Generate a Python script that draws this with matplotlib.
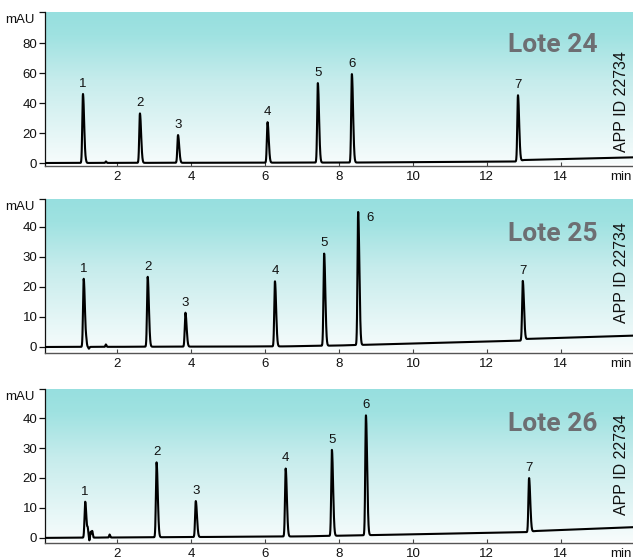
import numpy as np
import matplotlib
matplotlib.use("Agg")
import matplotlib.pyplot as plt
from matplotlib.colors import LinearSegmentedColormap

plt.rcParams['font.family'] = ['Liberation Sans', 'DejaVu Sans']

# chromatogram data (time in min, height in mAU)
lots = ["Lote 24", "Lote 25", "Lote 26"]
app_id = "APP ID 22734"

peak_times = [
    [1.08, 2.62, 3.65, 6.07, 7.43, 8.35, 12.84],
    [1.10, 2.83, 3.85, 6.27, 7.60, 8.52, 12.97],
    [1.14, 3.07, 4.13, 6.56, 7.81, 8.73, 13.14],
]
peak_heights = [
    [46, 33, 18.5, 27, 53, 59, 44],
    [22.7, 23.3, 11.3, 21.7, 30.7, 44.3, 19.7],
    [12, 25, 12, 22.7, 28.7, 40, 18],
]
peak_labels = ["1", "2", "3", "4", "5", "6", "7"]

# small bumps / system peaks
minor_times = [
    [1.16, 1.70],
    [1.17, 1.24, 1.70],
    [1.21, 1.25, 1.29, 1.33, 1.80],
]
minor_heights = [
    [0.6, 1.0],
    [1.3, -0.6, 0.8],
    [2.4, -1.0, 2.0, 2.2, 1.0],
]

# baseline drift knots
base_t = [
    [0, 8.4, 12.8, 13.0, 16],
    [0, 6.5, 8.0, 12.9, 13.1, 16],
    [0, 7.0, 10.0, 13.1, 13.3, 16],
]
base_v = [
    [0, 0.3, 1.0, 2.0, 3.8],
    [0, 0.2, 0.5, 2.1, 2.7, 3.8],
    [0, 0.5, 1.2, 1.9, 2.3, 3.6],
]

ylims = [(-2, 100.7), (-2, 49.3), (-1.7, 49.7)]
yticks = [[0, 20, 40, 60, 80], [0, 10, 20, 30, 40], [0, 10, 20, 30, 40]]
xticks = [2, 4, 6, 8, 10, 12, 14]

# label placement tweaks (offset in points)
label_offsets = [
    {},
    {5: (6, -4, 'left', 'center')},
    {},
]
app_y = [0.09, 0.195, 0.18]
lote_y = [0.74, 0.73, 0.73]

W, H = 633, 559
fig = plt.figure(figsize=(W / 100, H / 100), dpi=100)

# axes boxes in pixels (top, bottom)
boxes = [(12, 166), (199, 353), (389, 543)]
left_px = 45

grad = LinearSegmentedColormap.from_list(
    "bg", [(0.0, "#f7fcfc"), (0.55, "#c6ecec"), (0.85, "#9fe2e1"), (1.0, "#97dfdf")])

t = np.linspace(0, 16, 9000)


def peak(t, t0, h, sl=0.018, sr=0.032):
    s = np.where(t < t0, sl, sr)
    return h * np.exp(-0.5 * ((t - t0) / s) ** 2)


for i in range(3):
    top, bot = boxes[i]
    ax = fig.add_axes([left_px / W, 1 - bot / H, 1 - left_px / W, (bot - top) / H])

    # gradient background
    g = np.linspace(0, 1, 256).reshape(-1, 1)
    ax.imshow(g, aspect='auto', cmap=grad, origin='lower',
              extent=[0, 1, 0.015, 1], transform=ax.transAxes, zorder=0)

    y = np.interp(t, base_t[i], base_v[i])
    for t0, h in zip(peak_times[i], peak_heights[i]):
        y = y + peak(t, t0, h)
    for t0, h in zip(minor_times[i], minor_heights[i]):
        y = y + peak(t, t0, h, 0.012, 0.015)
    ax.plot(t, y, color='black', lw=1.5, zorder=3)

    for k, (t0, h) in enumerate(zip(peak_times[i], peak_heights[i])):
        base = np.interp(t0, base_t[i], base_v[i])
        dx, dy, ha, va = label_offsets[i].get(k, (0, 3, 'center', 'bottom'))
        ax.annotate(peak_labels[k], (t0, h + base), xytext=(dx, dy),
                    textcoords='offset points', ha=ha, va=va, fontsize=9.5,
                    color='#111111')

    ax.set_xlim(0.054, 15.95)
    ax.set_ylim(*ylims[i])
    ax.set_xticks(xticks)
    ax.set_yticks(yticks[i] + [ylims[i][1]])
    ax.set_yticklabels([str(v) for v in yticks[i]] + [""])
    ax.tick_params(axis='y', direction='out', length=4, width=0.9, pad=1.5,
                   labelsize=9.5, colors='#111111')
    ax.tick_params(axis='x', direction='in', length=3, width=0.8, pad=3.5,
                   labelsize=9.5, colors='#444444', labelcolor='#111111')
    ax.text(-0.018, 0.985, "mAU", transform=ax.transAxes, ha='right', va='top',
            fontsize=9.5, color='#111111')
    ax.text(0.997, -0.035, "min", transform=ax.transAxes, ha='right', va='top',
            fontsize=9.5, color='#111111')

    for sp in ['top', 'right']:
        ax.spines[sp].set_visible(False)
    ax.spines['left'].set_color('#111111')
    ax.spines['left'].set_linewidth(0.9)
    ax.spines['bottom'].set_color('#555555')
    ax.spines['bottom'].set_linewidth(1.0)

    ax.text(0.939, lote_y[i], lots[i], transform=ax.transAxes, ha='right',
            va='baseline', fontsize=19, fontweight='bold', color='#6d6e72',
            family=['Roboto', 'Liberation Sans'])
    ax.text(0.981, app_y[i], app_id, transform=ax.transAxes, rotation=90,
            ha='center', va='bottom', fontsize=11.5, color='#111111')

fig.savefig("out.png", dpi=100)
